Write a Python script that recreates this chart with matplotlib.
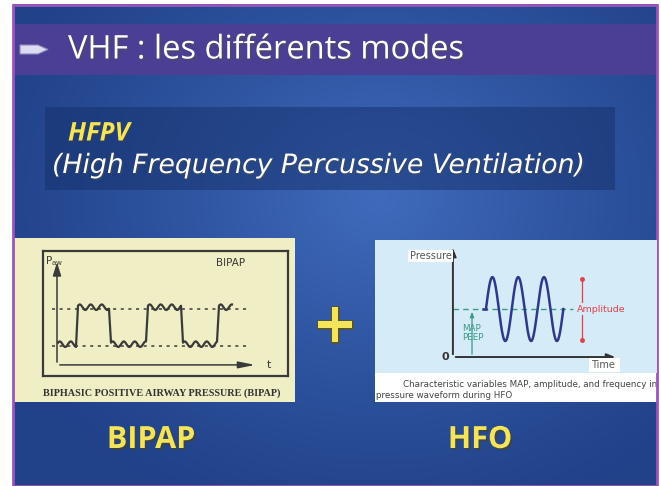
import numpy as np
import matplotlib.pyplot as plt
import matplotlib.patheffects as pe
from matplotlib.patches import Rectangle, Polygon

# slide texts
title = "VHF : les différents modes"
mode_name = "HFPV"
mode_full = "(High Frequency Percussive Ventilation)"
left_label = "BIPAP"
right_label = "HFO"
bipap_caption = "BIPHASIC POSITIVE AIRWAY PRESSURE (BIPAP)"
hfo_caption_1 = "Characteristic variables MAP, amplitude, and frequency in"
hfo_caption_2 = "pressure waveform during HFO"

# BIPAP schematic: switching times and the two pressure levels
bipap_switch_t = [0.0, 1.0, 2.65, 4.5, 6.25, 8.05, 8.8]
bipap_level = [1, 3, 1, 3, 1, 3]          # level held between switches
bipap_low, bipap_high = 1.0, 3.0
bipap_wiggle = 0.15                       # small superimposed oscillation
bipap_wiggle_period = 0.55

# HFO schematic
hfo_map = 1.5          # mean airway pressure
hfo_amp = 1.0          # oscillation amplitude
hfo_start, hfo_cycles = 1.28, 3

W, H = 661, 486
fig = plt.figure(figsize=(W / 100, H / 100), dpi=100, facecolor='white')
bg = fig.add_axes([0, 0, 1, 1])
bg.set_xlim(0, W)
bg.set_ylim(H, 0)
bg.axis('off')


def frac(x0, y0, x1, y1):
    return [x0 / W, 1 - y1 / H, (x1 - x0) / W, (y1 - y0) / H]


# blue background with soft light in the middle
yy, xx = np.mgrid[0:200, 0:300]
d = np.sqrt(((xx - 170) / 190.0) ** 2 + ((yy - 80) / 140.0) ** 2)
glow = np.clip(1 - d, 0, 1) ** 1.2
dark = np.array([0.13, 0.26, 0.54])
light = np.array([0.25, 0.42, 0.74])
img = dark + glow[..., None] * (light - dark)
bg.imshow(img, extent=[13, 657, 486, 5], aspect='auto', zorder=0)
bg.add_patch(Rectangle((13, 5), 644, 481, fill=False, ec='#9b55b8', lw=2, zorder=10))

# title band
bg.add_patch(Rectangle((14, 24), 642, 51, fc='#4b3f95', ec='none', zorder=1))
bg.add_patch(Polygon([[20, 45], [38, 45], [48, 49.5], [38, 54], [20, 54]],
                     closed=True, fc='#dcdcf0', ec='#8a8ac0', lw=0.8, zorder=2))
bg.text(68, 50, title, color='white', fontsize=23.5, family='Open Sans',
        va='center', ha='left', zorder=3,
        path_effects=[pe.withSimplePatchShadow(offset=(1.5, -1.5), alpha=0.5)])

# HFPV box
bg.add_patch(Rectangle((45, 107), 570, 83, fc='#15306a', alpha=0.5, ec='none', zorder=1))
bg.text(68, 133, mode_name, color='#f4e45c', fontsize=18.5, style='italic',
        weight='bold', family='Open Sans', va='center', zorder=3,
        path_effects=[pe.withSimplePatchShadow(offset=(1, -1), alpha=0.5)])
bg.text(52, 166, mode_full, color='white', fontsize=19.2, style='italic',
        family='DejaVu Sans', va='center', zorder=3,
        path_effects=[pe.withSimplePatchShadow(offset=(1, -1), alpha=0.5)])

# BIPAP panel
bg.add_patch(Rectangle((13, 238), 282, 164, fc='#f0eec4', ec='none', zorder=1))
bg.text(162, 393, bipap_caption, color='#333333', fontsize=7.3, weight='bold',
        family='Liberation Serif', ha='center', va='center', zorder=3)

axb = fig.add_axes(frac(43, 251, 288, 376))
axb.set_facecolor('#f0eec4')
axb.set_xlim(-0.7, 11.55)
axb.set_ylim(-0.6, 6.16)
axb.set_xticks([])
axb.set_yticks([])
for s in axb.spines.values():
    s.set_color('#3a3a3a')
    s.set_linewidth(1.6)
ink = '#3a3a3a'
axb.annotate('', xy=(0, 5.7), xytext=(0, 0),
             arrowprops=dict(arrowstyle='-|>,head_width=0.25,head_length=0.8', color=ink, lw=1.1))
axb.annotate('', xy=(10.05, 0), xytext=(0, 0),
             arrowprops=dict(arrowstyle='-|>,head_width=0.2,head_length=1.0', color=ink, lw=1.1))
axb.text(10.5, 0, 't', color=ink, fontsize=8, va='center')
axb.text(-0.6, 6.0, r'P$_{\rm aw}$', color=ink, fontsize=7.5, va='top')
axb.text(9.4, 5.5, 'BIPAP', color=ink, fontsize=7.5, ha='right', va='center')
for lev in (bipap_low, bipap_high):
    axb.plot([-0.25, 9.55], [lev, lev], ls=(0, (2, 3)), color=ink, lw=1.1)

tx, ty = [], []
for i, lev in enumerate(bipap_level):
    t0, t1 = bipap_switch_t[i], bipap_switch_t[i + 1]
    t = np.linspace(t0 + 0.05, t1 - 0.05, 60)
    w = lev + 0.12 + bipap_wiggle * np.sin(2 * np.pi * (t - t0) / bipap_wiggle_period)
    tx.extend(t)
    ty.extend(w)
axb.plot(tx, ty, color=ink, lw=1.6, solid_joinstyle='round')

# plus sign
bg.text(335, 327, '+', color='#f4e45c', fontsize=40, weight='bold', ha='center',
        va='center', zorder=3,
        path_effects=[pe.withStroke(linewidth=2, foreground='#555530')])

# HFO panel
bg.add_patch(Rectangle((375, 373), 282, 29, fc='white', ec='none', zorder=1))
bg.text(657, 384, hfo_caption_1, color='#444444', fontsize=6.3, ha='right',
        va='center', zorder=3, clip_on=True)
bg.text(376, 395, hfo_caption_2, color='#444444', fontsize=6.3, ha='left',
        va='center', zorder=3)

axh = fig.add_axes(frac(375, 240, 657, 373))
axh.set_facecolor('#d5ebf7')
axh.set_xlim(-3.02, 7.91)
axh.set_ylim(-0.5, 3.66)
axh.set_xticks([])
axh.set_yticks([])
for s in axh.spines.values():
    s.set_visible(False)
axc = '#333333'
axh.annotate('', xy=(0, 3.5), xytext=(0, 0),
             arrowprops=dict(arrowstyle='-|>,head_width=0.2,head_length=0.5', color=axc, lw=1.4))
axh.annotate('', xy=(6.4, 0), xytext=(0, 0),
             arrowprops=dict(arrowstyle='-|>,head_width=0.2,head_length=0.5', color=axc, lw=1.4))
axh.text(-0.3, 0, '0', color=axc, fontsize=8, weight='bold', ha='center', va='center')
axh.text(-0.05, 3.16, 'Pressure', color='#555555', fontsize=7, ha='right', va='center',
         bbox=dict(fc='white', ec='none', pad=1))
axh.text(5.35, -0.25, 'Time ', color='#555555', fontsize=7, ha='left', va='center',
         bbox=dict(fc='white', ec='none', pad=1.5))

teal = '#3a9a86'
axh.plot([0, 4.65], [hfo_map, hfo_map], ls=(0, (4, 3)), color=teal, lw=1.0)
axh.annotate('', xy=(0.74, hfo_map), xytext=(0.74, 0),
             arrowprops=dict(arrowstyle='-|>,head_width=0.12,head_length=0.3', color=teal, lw=0.9))
axh.text(0.35, 0.9, 'MAP', color=teal, fontsize=6.3, ha='left', va='center')
axh.text(0.35, 0.6, 'PEEP', color=teal, fontsize=6.3, ha='left', va='center')

t = np.linspace(hfo_start, hfo_start + hfo_cycles, 300)
axh.plot([hfo_start - 0.1, hfo_start], [hfo_map, hfo_map], color='#2c3a8c', lw=1.8)
axh.plot(t, hfo_map + hfo_amp * np.sin(2 * np.pi * (t - hfo_start)), color='#2c3a8c', lw=1.8)

red = '#e0404a'
axh.plot([5.0, 5.0], [hfo_map - hfo_amp * 0.97, hfo_map + hfo_amp * 0.94], color=red, lw=0.9,
         marker='o', ms=2.5, markevery=[0, 1])
axh.text(5.75, hfo_map, 'Amplitude', color=red, fontsize=6.8, ha='center', va='center',
         bbox=dict(fc='#d5ebf7', ec='none', pad=1))

# bottom labels
for x, lab in ((151, left_label), (480, right_label)):
    bg.text(x, 440, lab, color='#f4e45c', fontsize=22, weight='bold', family='Open Sans',
            ha='center', va='center', zorder=3,
            path_effects=[pe.withSimplePatchShadow(offset=(1.5, -1.5), alpha=0.6)])

fig.savefig('out.png', dpi=100, facecolor='white')
